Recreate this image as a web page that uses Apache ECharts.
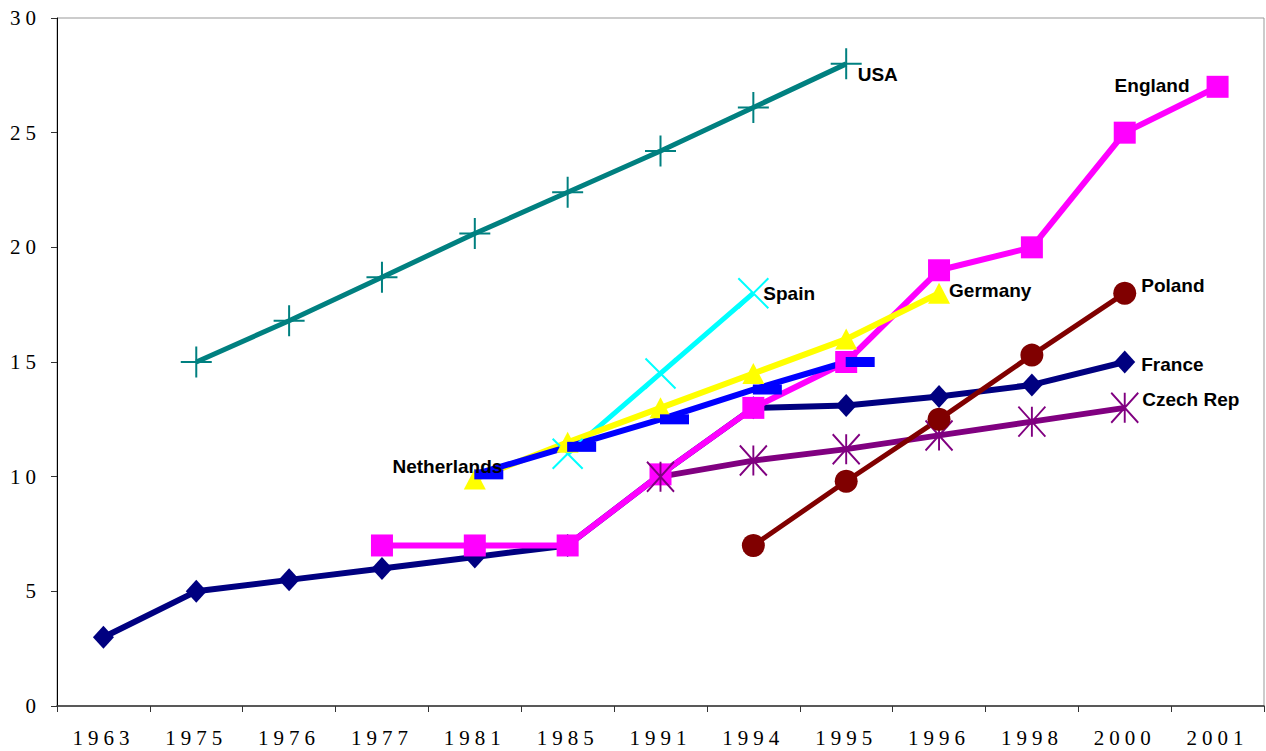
<!DOCTYPE html>
<html>
<head>
<meta charset="utf-8">
<script src="https://cdn.jsdelivr.net/npm/echarts@6/dist/echarts.min.js"></script>
<style>
  html, body { margin: 0; padding: 0; background: #fff; }
  #chart { width: 1266px; height: 751px; }
  #chart text[style*="Serif"] { letter-spacing: 5px; }
</style>
</head>
<body>
<div id="chart"></div>
<script>
// ---- data ----
const categories = ['1963', '1975', '1976', '1977', '1981', '1985', '1991', '1994', '1995', '1996', '1998', '2000', '2001'];
const yTickValues = [0, 5, 10, 15, 20, 25, 30];

const france      = [3, 5, 5.5, 6, 6.5, 7, 10.1, 13, 13.1, 13.5, 14, 15, null];
const england     = [null, null, null, 7, 7, 7, 10.1, 13, 15, 19, 20, 25, 27];
const spain       = [null, null, null, null, null, 11, 14.5, 18, null, null, null, null, null];
const germany     = [null, null, null, null, 9.9, 11.5, 13, 14.5, 16, 18, null, null, null];
const netherlands = [null, null, null, null, 10.1, 11.3, 12.5, 13.8, 15, null, null, null, null];
const czech       = [null, null, null, null, null, null, 10, 10.7, 11.2, 11.8, 12.4, 13, null];
const poland      = [null, null, null, null, null, null, null, 7, 9.8, 12.5, 15.3, 18, null];
const usa         = [null, 15, 16.8, 18.7, 20.6, 22.4, 24.2, 26.1, 28, null, null, null, null];

const seriesNames = ['France', 'England', 'Spain', 'Germany', 'Netherlands', 'Czech Rep', 'Poland', 'USA'];
const seriesValues = [france, england, spain, germany, netherlands, czech, poland, usa];
const labelIndex = [11, 12, 7, 9, 4, 11, 11, 8];

// ---- styles ----
const styles = {
  'France':      { color: '#000080', width: 6, symbol: 'diamond', size: [21, 23], label: { position: 'right', offset: [1, 2] } },
  'England':     { color: '#FF00FF', width: 6, symbol: 'rect', size: 22, label: { position: 'left', offset: [-12, -1] } },
  'Spain':       { color: '#00FFFF', width: 5, symbol: 'path://M0,0L30,30M30,0L0,30', size: 30, stroke: 2, label: { position: 'right', offset: [-11, 0] } },
  'Germany':     { color: '#FFFF00', width: 6, symbol: 'triangle', size: [22, 21], label: { position: 'right', offset: [-6, -3] } },
  'Netherlands': { color: '#0000FF', width: 6, symbol: 'rect', size: [29, 10], symbolOffset: [14, 0], label: { position: 'left', offset: [33, -8] } },
  'Czech Rep':   { color: '#800080', width: 6, symbol: 'path://M0,0L27,30M27,0L0,30M13.5,0L13.5,30', size: [27, 30], stroke: 2, label: { position: 'right', offset: [-2, -8] } },
  'Poland':      { color: '#800000', width: 5, symbol: 'circle', size: 23, label: { position: 'right', offset: [0, -8] } },
  'USA':         { color: '#008080', width: 5, symbol: 'path://M15,0L15,30M0,15L30,15', size: 31, stroke: 2, label: { position: 'right', offset: [-10, 11] } }
};

const labelFont = { fontFamily: 'Liberation Sans', fontWeight: 'bold', fontSize: 19, color: '#000' };

const series = seriesNames.map(function (name, i) {
  const st = styles[name];
  const data = seriesValues[i].map(function (v, j) {
    if (j === labelIndex[i] && v !== null) {
      return { value: v, label: Object.assign({ show: true, formatter: name }, labelFont, st.label) };
    }
    return v;
  });
  return {
    name: name,
    type: 'line',
    data: data,
    symbol: st.symbol,
    symbolSize: st.size,
    symbolOffset: st.symbolOffset || [0, 0],
    symbolKeepAspect: false,
    showAllSymbol: true,
    connectNulls: false,
    lineStyle: { color: st.color, width: st.width },
    itemStyle: st.stroke
      ? { color: st.color, borderColor: st.color, borderWidth: st.stroke }
      : { color: st.color, borderWidth: 0 },
    emphasis: { disabled: true },
    animation: false
  };
});

const chart = echarts.init(document.getElementById('chart'), null, { renderer: 'svg' });
chart.setOption({
  backgroundColor: '#fff',
  animation: false,
  grid: { left: 57, right: 2, top: 18, bottom: 45, show: true, borderColor: '#999', borderWidth: 1, backgroundColor: 'transparent' },
  xAxis: {
    type: 'category',
    data: categories,
    boundaryGap: true,
    axisLine: { show: true, lineStyle: { color: '#333', width: 1.5 } },
    axisTick: { show: true, alignWithLabel: false, length: 6, lineStyle: { color: '#333' } },
    axisLabel: { fontFamily: 'Liberation Serif', fontSize: 21, color: '#000', margin: 21, interval: 0 },
    splitLine: { show: false }
  },
  yAxis: {
    type: 'value',
    min: yTickValues[0],
    max: yTickValues[yTickValues.length - 1],
    interval: yTickValues[1] - yTickValues[0],
    axisLine: { show: true, lineStyle: { color: '#000', width: 1 } },
    axisTick: { show: true, length: 6, lineStyle: { color: '#333' } },
    axisLabel: { fontFamily: 'Liberation Serif', fontSize: 21, color: '#000', margin: 16 },
    splitLine: { show: false }
  },
  tooltip: { show: false },
  series: series
});
</script>
</body>
</html>
